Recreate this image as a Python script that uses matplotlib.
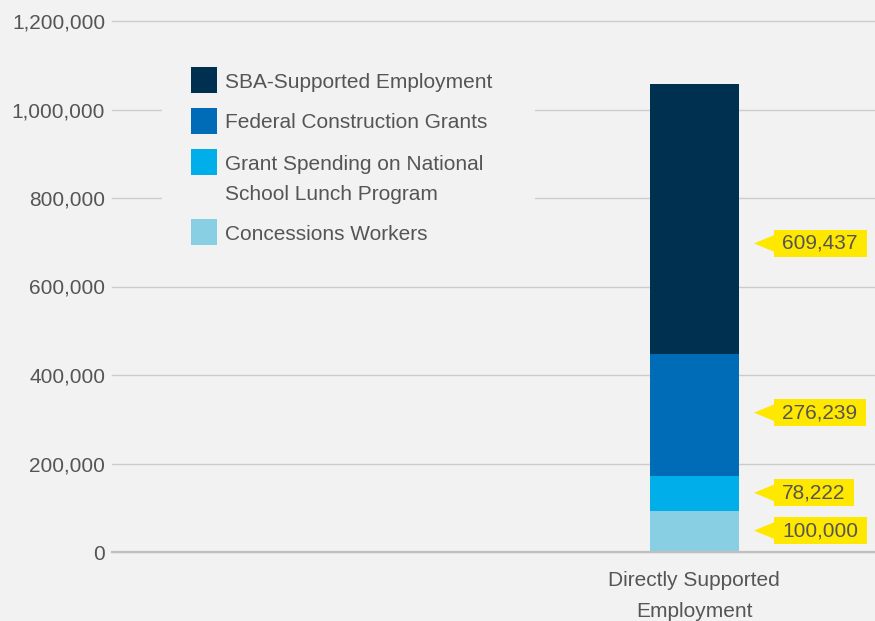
import matplotlib
matplotlib.use("Agg")
import matplotlib.pyplot as plt
from matplotlib.patches import Rectangle, Polygon
from matplotlib.ticker import FuncFormatter

# Dados (de baixo para cima)
categoria = ["Directly Supported\nEmployment"]
series = ["Concessions Workers", "Grant Spending on National\nSchool Lunch Program",
          "Federal Construction Grants", "SBA-Supported Employment"]
valores = [93000, 78222, 276239, 609437]
rotulos = ["100,000", "78,222", "276,239", "609,437"]
cores = ["#89cfe4", "#00aee9", "#006bb6", "#00304f"]

FUNDO = "#f2f2f2"
TEXTO = "#555555"
AMARELO = "#ffe800"
plt.rcParams["font.family"] = ["Liberation Sans", "DejaVu Sans"]

W, H = 875, 621
fig = plt.figure(figsize=(W / 100, H / 100), dpi=100, facecolor=FUNDO)
ax = fig.add_axes([112 / W, 1 - 552 / H, 1 - 112 / W, (552 - 21) / H])
ax.set_facecolor(FUNDO)

# Barras empilhadas
base = 0
centros = []
for i, v in enumerate(valores):
    ax.bar(0, v, bottom=base, width=0.1166, color=cores[i], zorder=3)
    frac = 0.41 if i == len(valores) - 1 else 0.52
    centros.append(base + frac * v)
    base += v

ax.set_xlim(-0.763, 0.237)
ax.set_ylim(0, 1200000)
ax.set_yticks(range(0, 1200001, 200000))
ax.yaxis.set_major_formatter(FuncFormatter(lambda x, p: f"{int(x):,}"))
ax.set_xticks([0])
ax.set_xticklabels(categoria, linespacing=1.8)
ax.tick_params(axis="y", length=0, pad=5, labelsize=15, labelcolor=TEXTO)
ax.tick_params(axis="x", length=0, pad=14, labelsize=15, labelcolor=TEXTO)
ax.grid(axis="y", color="#cccccc", linewidth=1, zorder=0)
for g in ax.get_ygridlines():
    g.set_clip_on(False)
for s in ["left", "right", "top"]:
    ax.spines[s].set_visible(False)
ax.spines["bottom"].set_color("#bfbfbf")
ax.spines["bottom"].set_linewidth(1.6)
ax.spines["bottom"].set_zorder(4)

# Rótulos com seta amarela
fig.canvas.draw()
renderer = fig.canvas.get_renderer()
for i, y in enumerate(centros):
    t = ax.text((782 - 112) / 763, y, rotulos[i], transform=ax.get_yaxis_transform(),
                ha="left", va="center", fontsize=15, color=TEXTO, zorder=6,
                clip_on=False)
    ext = t.get_window_extent(renderer)
    yc = (ext.y0 + ext.y1) / 2
    esq = ext.x0 - 8
    larg = ext.width + 17
    caixa = Rectangle((esq, yc - 13.5), larg, 27, transform=None,
                      facecolor=AMARELO, edgecolor="none", zorder=5, clip_on=False)
    seta = Polygon([(esq - 20, yc), (esq + 0.5, yc + 8.5), (esq + 0.5, yc - 8.5)],
                   closed=True, transform=None, facecolor=AMARELO,
                   edgecolor="none", zorder=5, clip_on=False)
    ax.add_patch(caixa)
    ax.add_patch(seta)

# Legenda desenhada à mão (fundo cobre as linhas de grade)
def fx(x):
    return x / W


def fy(y):
    return 1 - y / H


fig.add_artist(Rectangle((fx(162), fy(260)), (535 - 162) / W, (260 - 35) / H,
                         transform=fig.transFigure, facecolor=FUNDO,
                         edgecolor="none", zorder=2))
centros_leg = [80, 121, 162, 232]
for k, yc in enumerate(centros_leg):
    i = len(series) - 1 - k
    fig.add_artist(Rectangle((fx(191), fy(yc + 13)), 26 / W, 26 / H,
                             transform=fig.transFigure, facecolor=cores[i],
                             edgecolor="none", zorder=3))
    if "\n" in series[i]:
        fig.text(fx(225), fy(yc - 7), series[i], ha="left", va="top",
                 fontsize=15, color=TEXTO, linespacing=1.75, zorder=4)
    else:
        fig.text(fx(225), fy(yc + 2), series[i], ha="left", va="center",
                 fontsize=15, color=TEXTO, zorder=4)

fig.savefig("out.png", dpi=100, facecolor=FUNDO)
